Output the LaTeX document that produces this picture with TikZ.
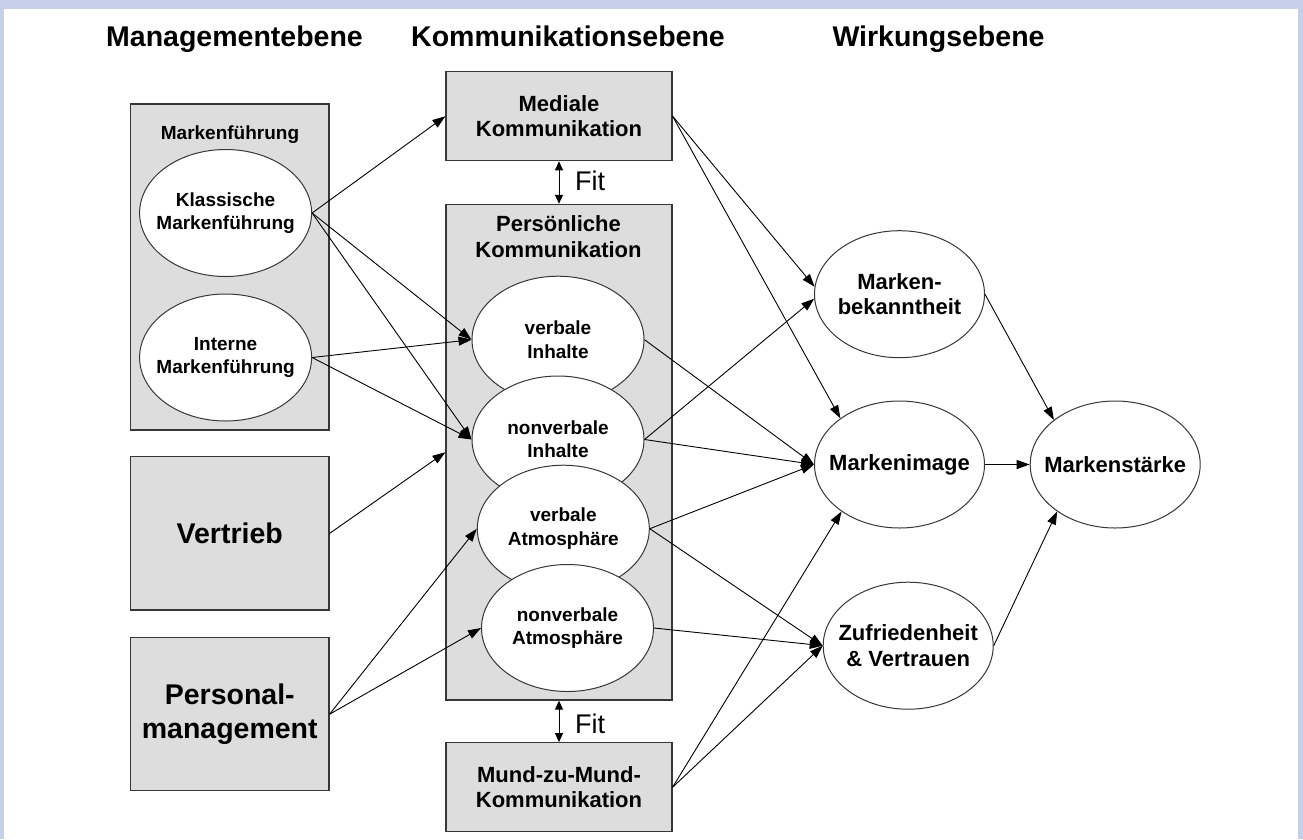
\documentclass[tikz,border=0pt]{standalone}
\usepackage{fontspec}
\setmainfont{Liberation Sans}
\usetikzlibrary{shapes.geometric,arrows.meta}
\definecolor{framebl}{RGB}{197,207,232}
\definecolor{boxgray}{RGB}{221,221,221}
\definecolor{edgegray}{RGB}{55,55,55}

\begin{document}
\begin{tikzpicture}[x=1pt,y=-1pt,
  head/.style={font=\bfseries\fontsize{28.5}{33}\selectfont,anchor=base},
  box/.style={draw=edgegray,line width=1.2pt,fill=boxgray,inner sep=0pt,align=center},
  oval/.style={ellipse,draw=edgegray,line width=1pt,fill=white,
    minimum width=172pt,minimum height=127pt,inner sep=0pt},
  txtsmall/.style={font=\bfseries\fontsize{19}{23.3}\selectfont,align=center},
  txtmid/.style={font=\bfseries\fontsize{22}{25.6}\selectfont,align=center},
  txtbig/.style={font=\bfseries\fontsize{28.5}{33.3}\selectfont,align=center},
  arr/.style={-{Triangle[length=13pt,width=9pt]},line width=0.9pt},
  fitarr/.style={{Triangle[length=9pt,width=8pt]}-{Triangle[length=9pt,width=8pt]},line width=0.9pt},
  fitlabel/.style={font=\fontsize{27}{30}\selectfont}]
  \fill[framebl] (0,0) rectangle (1303,839);
  \fill[white] (4,9) rectangle (1297.5,839);

  \node[head] (hmgmt) at (234.5,46.5) {Managementebene};
  \node[head] (hkomm) at (568,46.5) {Kommunikationsebene};
  \node[head] (hwirk) at (938.5,46.5) {Wirkungsebene};

  \node[box,minimum width=198.5pt,minimum height=326pt] (fuehrung) at (229.75,267) {};
  \node[txtsmall,anchor=base] (fuehrungtxt) at (230,139) {Markenführung};
  \node[oval,label={[txtsmall]center:Klassische\\Markenführung}] (klass) at (225.6,213) {};
  \node[oval,label={[txtsmall]center:Interne\\Markenführung}] (intern) at (225.6,357.5) {};
  \node[box,txtbig,minimum width=198.5pt,minimum height=153.3pt] (vertrieb) at (229.75,533.4) {Vertrieb};
  \node[box,txtbig,minimum width=198.5pt,minimum height=153pt] (personal) at (229.75,714.2) {Personal-\\management};

  \node[box,txtmid,minimum width=226pt,minimum height=89pt] (medial) at (559,116.2) {Mediale\\Kommunikation};
  \node[box,minimum width=226pt,minimum height=495.7pt] (pers) at (559,452.2) {};
  \node[txtmid] (perstxt) at (558.5,236.4) {Persönliche\\Kommunikation};
  \node[oval,label={[txtsmall]center:verbale\\Inhalte}] (vinh) at (558,339.7) {};
  \node[oval,label={[txtsmall]center:nonverbale\\Inhalte}] (nvinh) at (558,439.5) {};
  \node[oval,label={[txtsmall]center:verbale\\Atmosphäre}] (vatm) at (563.3,528.7) {};
  \node[oval,label={[txtsmall]center:nonverbale\\Atmosphäre}] (nvatm) at (567.5,628) {};
  \node[box,txtmid,minimum width=226pt,minimum height=89pt] (mund) at (559,787.2) {Mund-zu-Mund-\\Kommunikation};

  \node[fitlabel] (fit1) at (590,181) {Fit};
  \node[fitlabel] (fit2) at (590,724) {Fit};
  \draw[fitarr] (medial.south) -- (pers.north);
  \draw[fitarr] (pers.south) -- (mund.north);

  \node[oval,minimum width=170pt,label={[txtmid]center:Marken-\\bekanntheit}] (bekannt) at (899.5,294.2) {};
  \node[oval,minimum width=170pt,label={[txtmid]center:Markenimage}] (image) at (899.5,464.5) {};
  \node[oval,minimum width=170pt,label={[txtmid]center:Markenstärke}] (staerke) at (1115.2,464.5) {};
  \node[oval,minimum width=170pt,label={[txtmid]center:Zufriedenheit\\\& Vertrauen}] (zufried) at (908.2,645.7) {};

  \draw[arr] (klass.east) -- (medial.west);
  \draw[arr] (klass.east) -- (vinh.west);
  \draw[arr] (klass.east) -- (nvinh.west);
  \draw[arr] (intern.east) -- (vinh.west);
  \draw[arr] (intern.east) -- (nvinh.west);
  \draw[arr] (vertrieb.east) -- (pers.west);
  \draw[arr] (personal.east) -- (vatm.west);
  \draw[arr] (personal.east) -- (nvatm.west);

  \draw[arr] (medial.east) -- (bekannt.175);
  \draw[arr] (medial.east) -- (image.142);
  \draw[arr] (nvinh.east) -- (bekannt.183);
  \draw[arr] (vinh.east) -- (image.west);
  \draw[arr] (nvinh.east) -- (image.west);
  \draw[arr] (vatm.east) -- (image.west);
  \draw[arr] (vatm.east) -- (zufried.west);
  \draw[arr] (nvatm.east) -- (zufried.west);
  \draw[arr] (mund.east) -- (image.219);
  \draw[arr] (mund.east) -- (zufried.west);
  \draw[arr] (bekannt.east) -- (staerke.144);
  \draw[arr] (image.east) -- (staerke.west);
  \draw[arr] (zufried.east) -- (staerke.219);
\end{tikzpicture}
\end{document}
